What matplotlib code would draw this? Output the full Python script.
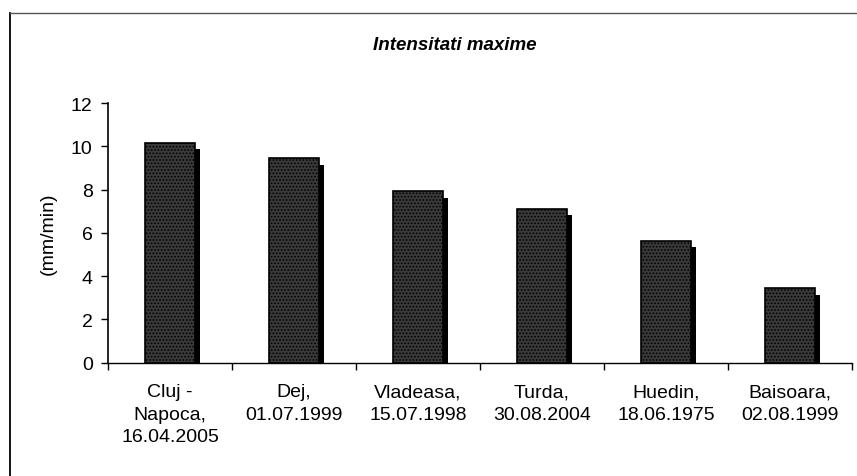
import matplotlib
matplotlib.use("Agg")
import matplotlib.pyplot as plt
from matplotlib.lines import Line2D
import numpy as np

categories = ["Cluj -\nNapoca,\n16.04.2005", "Dej,\n01.07.1999", "Vladeasa,\n15.07.1998",
              "Turda,\n30.08.2004", "Huedin,\n18.06.1975", "Baisoara,\n02.08.1999"]
values = [10.15, 9.44, 7.92, 7.10, 5.63, 3.43]
yticks = [0, 2, 4, 6, 8, 10, 12]
title = "Intensitati maxime"
ylabel = "(mm/min)"

plt.rcParams['font.family'] = ['Liberation Sans', 'DejaVu Sans']
plt.rcParams['hatch.color'] = '#a0a0a0'
plt.rcParams['hatch.linewidth'] = 0.8

fig = plt.figure(figsize=(8.57, 4.77), dpi=100)
ax = fig.add_axes([108/857, 1-363.5/477, (852-108)/857, (363.5-104)/477])

x = np.arange(len(categories))
w = 0.41
shadow_dx = 0.034
shadow_dy = 0.3
ax.bar(x + shadow_dx, np.array(values) - shadow_dy, width=w, color='black', zorder=2)
ax.bar(x, values, width=w, facecolor='#3a3a3a', edgecolor='black', linewidth=1.2,
       hatch='.....', zorder=3)

fs = 14
ax.set_xlim(-0.5, len(categories) - 0.5)
ax.set_ylim(0, 12)
ax.set_yticks(yticks)
ax.set_yticklabels([str(t) for t in yticks], fontsize=fs)
ax.set_xticks(np.arange(len(categories) + 1) - 0.5)
ax.set_xticklabels([])
ax.set_xticks(x, minor=True)
ax.set_xticklabels(categories, minor=True, fontsize=fs, linespacing=1.4)
ax.tick_params(axis='x', which='minor', length=0, pad=15)
ax.tick_params(axis='x', which='major', length=5, direction='out', width=1)
ax.tick_params(axis='y', length=5, direction='out', width=1, pad=6)

for s in ['top', 'right']:
    ax.spines[s].set_visible(False)
ax.spines['left'].set_linewidth(1.2)
ax.spines['bottom'].set_linewidth(1.0)

ax.set_ylabel(ylabel, fontsize=fs, labelpad=10)
fig.text(455/857, 1-45/477, title, fontsize=13.5, fontweight='bold', fontstyle='italic',
         ha='center', va='center')

# chart area border (left and top edges visible)
fig.add_artist(Line2D([10/857, 10/857], [0, 1-14/477], color='black', lw=1.3,
                      transform=fig.transFigure))
fig.add_artist(Line2D([10/857, 1], [1-14/477, 1-14/477], color='#555555', lw=1.0,
                      transform=fig.transFigure))

fig.savefig("out.png", dpi=100)
